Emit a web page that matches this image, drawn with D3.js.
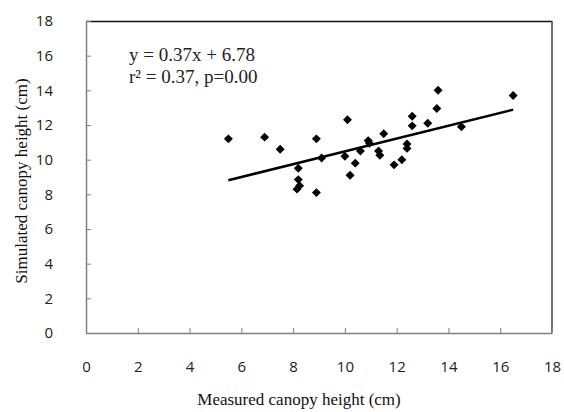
<!DOCTYPE html>
<html>
<head>
<meta charset="utf-8">
<script src="https://cdn.jsdelivr.net/npm/d3@7"></script>
<style>
  body { margin: 0; background: #fff; }
  svg { display: block; }
</style>
</head>
<body>
<svg id="chart"></svg>
<script>
// measured vs simulated canopy height (cm)
var measured = [5.5, 6.9, 7.5, 8.9, 9.1, 8.2, 8.2, 8.15, 8.25, 8.9,
  10.1, 10.0, 10.4, 10.2, 10.6, 10.9, 10.95, 11.5, 11.3, 11.35,
  11.9, 12.2, 12.4, 12.4, 12.6, 12.6, 13.2, 13.55, 13.6, 14.5, 16.5];
var simulated = [11.2, 11.3, 10.6, 11.2, 10.1, 9.5, 8.85, 8.3, 8.5, 8.1,
  12.3, 10.2, 9.8, 9.1, 10.5, 11.1, 10.95, 11.5, 10.5, 10.25,
  9.7, 10.0, 10.9, 10.65, 12.5, 11.95, 12.1, 12.95, 14.0, 11.9, 13.7];
var xTicks = [0, 2, 4, 6, 8, 10, 12, 14, 16, 18];
var yTicks = [0, 2, 4, 6, 8, 10, 12, 14, 16, 18];
var slope = 0.37, intercept = 6.78;
var fitRange = [5.5, 16.5];
var eqLines = ["y = 0.37x + 6.78", "r\u00B2 = 0.37, p=0.00"];

var width = 564, height = 412;
var margin = { top: 21, right: 12, bottom: 79, left: 86 };
var w = width - margin.left - margin.right,
    h = height - margin.top - margin.bottom;

var svg = d3.select("#chart")
  .attr("width", width)
  .attr("height", height);

var g = svg.append("g")
  .attr("transform", "translate(" + margin.left + "," + margin.top + ")");

var x = d3.scaleLinear().domain([0, 18]).range([0, w]);
var y = d3.scaleLinear().domain([0, 18]).range([h, 0]);

// plot area frame (top + right)
g.append("line").attr("x1", 0).attr("x2", w).attr("y1", 0.5).attr("y2", 0.5)
  .attr("stroke", "#111").attr("stroke-width", 1.3);
g.append("line").attr("x1", w).attr("x2", w).attr("y1", 0).attr("y2", h)
  .attr("stroke", "#444").attr("stroke-width", 1.5);

var tickFont = "'Open Sans', 'Liberation Sans', sans-serif";

var xAxis = g.append("g")
  .attr("transform", "translate(0," + h + ")")
  .call(d3.axisBottom(x).tickValues(xTicks).tickSizeInner(-5).tickSizeOuter(0).tickPadding(28));
var yAxis = g.append("g")
  .call(d3.axisLeft(y).tickValues(yTicks).tickSizeInner(-5).tickSizeOuter(0).tickPadding(33));

[xAxis, yAxis].forEach(function (a) {
  a.select(".domain").attr("stroke", "#808080").attr("stroke-width", 1.5);
  a.selectAll(".tick line").attr("stroke", "#808080");
  a.selectAll(".tick text")
    .attr("fill", "#222")
    .style("font-family", tickFont)
    .style("font-size", "15px");
});

// regression line
g.append("line")
  .attr("x1", x(fitRange[0])).attr("y1", y(slope * fitRange[0] + intercept))
  .attr("x2", x(fitRange[1])).attr("y2", y(slope * fitRange[1] + intercept))
  .attr("stroke", "#000").attr("stroke-width", 2.5);

// points: square turned 45deg
var diamond = d3.symbol().type(d3.symbolSquare).size(40);
g.selectAll("path.pt")
  .data(measured)
  .enter()
  .append("path")
  .attr("class", "pt")
  .attr("d", diamond)
  .attr("transform", function (d, i) {
    return "translate(" + x(d) + "," + y(simulated[i]) + ") rotate(45)";
  })
  .attr("fill", "#000");

// equation text
var serif = "'Liberation Serif', 'Times New Roman', serif";
g.selectAll("text.eq")
  .data(eqLines)
  .enter()
  .append("text")
  .attr("class", "eq")
  .attr("x", 43)
  .attr("y", function (d, i) { return 40 + i * 22; })
  .style("font-family", serif)
  .style("font-size", "19px")
  .attr("fill", "#222")
  .text(function (d) { return d; });

// axis titles
svg.append("text")
  .attr("x", margin.left + w / 2 - 20)
  .attr("y", 405)
  .attr("text-anchor", "middle")
  .style("font-family", serif)
  .style("font-size", "17px")
  .attr("fill", "#111")
  .text("Measured canopy height (cm)");

svg.append("text")
  .attr("transform", "translate(27," + 181 + ") rotate(-90)")
  .attr("text-anchor", "middle")
  .style("font-family", serif)
  .style("font-size", "17px")
  .attr("fill", "#111")
  .text("Simulated canopy height (cm)");
</script>
</body>
</html>
